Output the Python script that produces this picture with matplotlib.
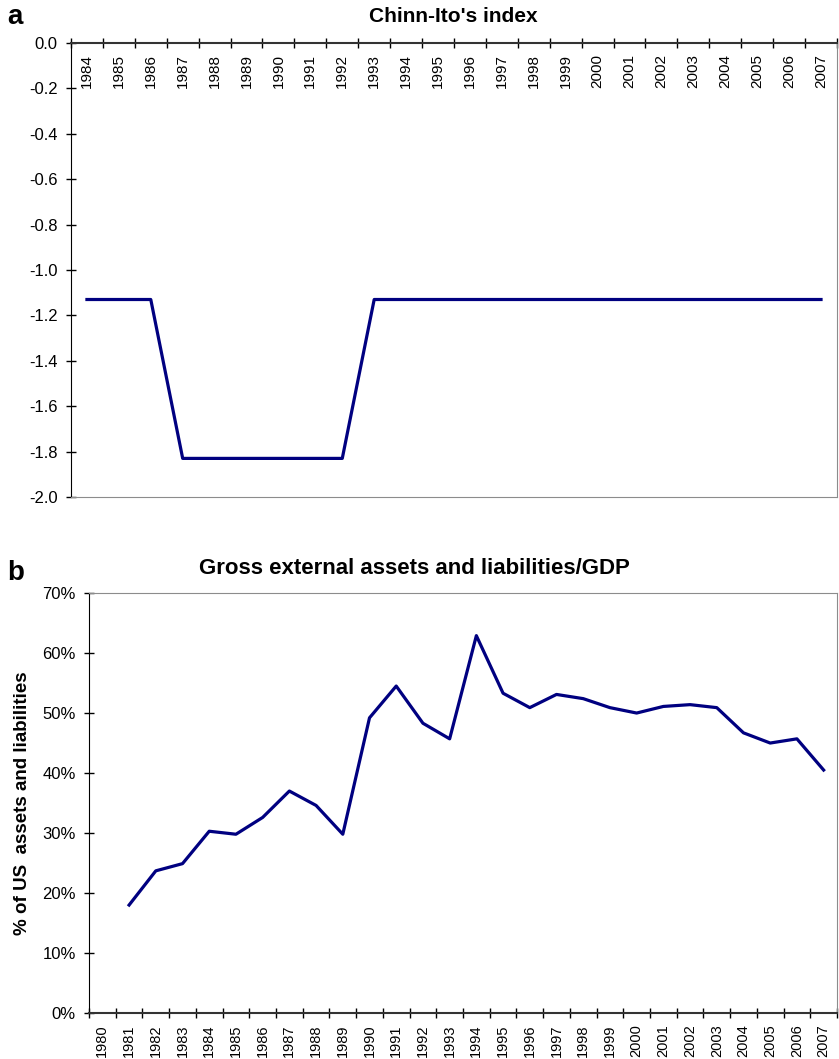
import matplotlib
matplotlib.use("Agg")
import matplotlib.pyplot as plt
import numpy as np

plt.rcParams['font.family'] = ['Liberation Sans', 'DejaVu Sans']

# panel a: Chinn-Ito's index
years_a = list(range(1984, 2008))
chinn_ito = [-1.13, -1.13, -1.13, -1.83, -1.83, -1.83, -1.83, -1.83, -1.83,
             -1.13, -1.13, -1.13, -1.13, -1.13, -1.13, -1.13, -1.13, -1.13,
             -1.13, -1.13, -1.13, -1.13, -1.13, -1.13]
yticks_a = [-2.0, -1.8, -1.6, -1.4, -1.2, -1.0, -0.8, -0.6, -0.4, -0.2, 0.0]
ylabels_a = ['-2.0', '-1.8', '-1.6', '-1.4', '-1.2', '-1.0', '-0.8', '-0.6', '-0.4', '-0.2', '0.0']

# panel b: gross external assets and liabilities / GDP (%)
years_b = list(range(1980, 2008))
gross_years = list(range(1981, 2008))
gross_pct = [18.0, 23.7, 24.9, 30.3, 29.8, 32.6, 37.0, 34.6, 29.8, 49.2,
             54.5, 48.3, 45.7, 62.9, 53.3, 50.9, 53.1, 52.4, 50.9, 50.0,
             51.1, 51.4, 50.9, 46.7, 45.0, 45.7, 40.5]
yticks_b = [0, 10, 20, 30, 40, 50, 60, 70]

navy = '#000080'
border = '#8c8c8c'

fig = plt.figure(figsize=(8.39, 10.59), dpi=100)

# ---- panel a
ax1 = fig.add_axes([0.0846, 0.5307, 0.9130, 0.4287])
xa = np.arange(len(years_a))
ax1.plot(xa, chinn_ito, color=navy, lw=2.3)
ax1.set_xlim(-0.5, len(years_a) - 0.5)
ax1.set_ylim(-2.0, 0.0)
ax1.set_yticks(yticks_a)
ax1.set_yticklabels(ylabels_a)
ax1.xaxis.tick_top()
ax1.set_xticks(np.arange(-0.5, len(years_a), 1.0))
ax1.set_xticklabels([])
ax1.tick_params(axis='x', direction='inout', length=7, width=1, colors='black')
ax1.tick_params(axis='y', direction='inout', length=7, width=1, labelsize=12, pad=6)
for i, yr in enumerate(years_a):
    ax1.text(i, -0.05, str(yr), rotation=90, ha='center', va='top', fontsize=11)
ax1.spines['top'].set_color('#333333')
ax1.spines['top'].set_linewidth(1.5)
ax1.spines['left'].set_color('black')
ax1.spines['bottom'].set_color(border)
ax1.spines['right'].set_color(border)
fig.text(0.54, 1 - 16 / 1059, "Chinn-Ito's index", fontsize=15, fontweight='bold',
         ha='center', va='center')
fig.text(0.009, 0.9835, 'a', fontsize=20, fontweight='bold', va='center')

# ---- panel b
ax2 = fig.add_axes([0.1061, 0.0434, 0.8915, 0.3966])
xb = np.array([years_b.index(y) for y in gross_years])
ax2.plot(xb, gross_pct, color=navy, lw=2.3)
ax2.set_xlim(-0.5, len(years_b) - 0.5)
ax2.set_ylim(0, 70)
ax2.set_yticks(yticks_b)
ax2.set_yticklabels(['%d%%' % v for v in yticks_b])
ax2.set_xticks(np.arange(-0.5, len(years_b), 1.0))
ax2.set_xticklabels([])
ax2.set_xticks(np.arange(len(years_b)), minor=True)
ax2.set_xticklabels([str(y) for y in years_b], minor=True, rotation=90, fontsize=10.5)
ax2.tick_params(axis='x', which='major', direction='inout', length=7, width=1)
ax2.tick_params(axis='x', which='minor', length=0, pad=8)
ax2.tick_params(axis='y', direction='inout', length=7, width=1, labelsize=12, pad=6)
ax2.spines['bottom'].set_color('#333333')
ax2.spines['bottom'].set_linewidth(1.5)
ax2.spines['left'].set_color('black')
ax2.spines['top'].set_color(border)
ax2.spines['right'].set_color(border)
ax2.set_ylabel('% of US  assets and liabilities', fontsize=13.5, fontweight='bold')
ax2.yaxis.set_label_coords(-0.077, 0.5)
fig.text(414 / 839, 1 - 569 / 1059, 'Gross external assets and liabilities/GDP', fontsize=16,
         fontweight='bold', ha='center', va='center')
fig.text(0.009, 0.459, 'b', fontsize=20, fontweight='bold', va='center')

fig.savefig('out.png', dpi=100)
